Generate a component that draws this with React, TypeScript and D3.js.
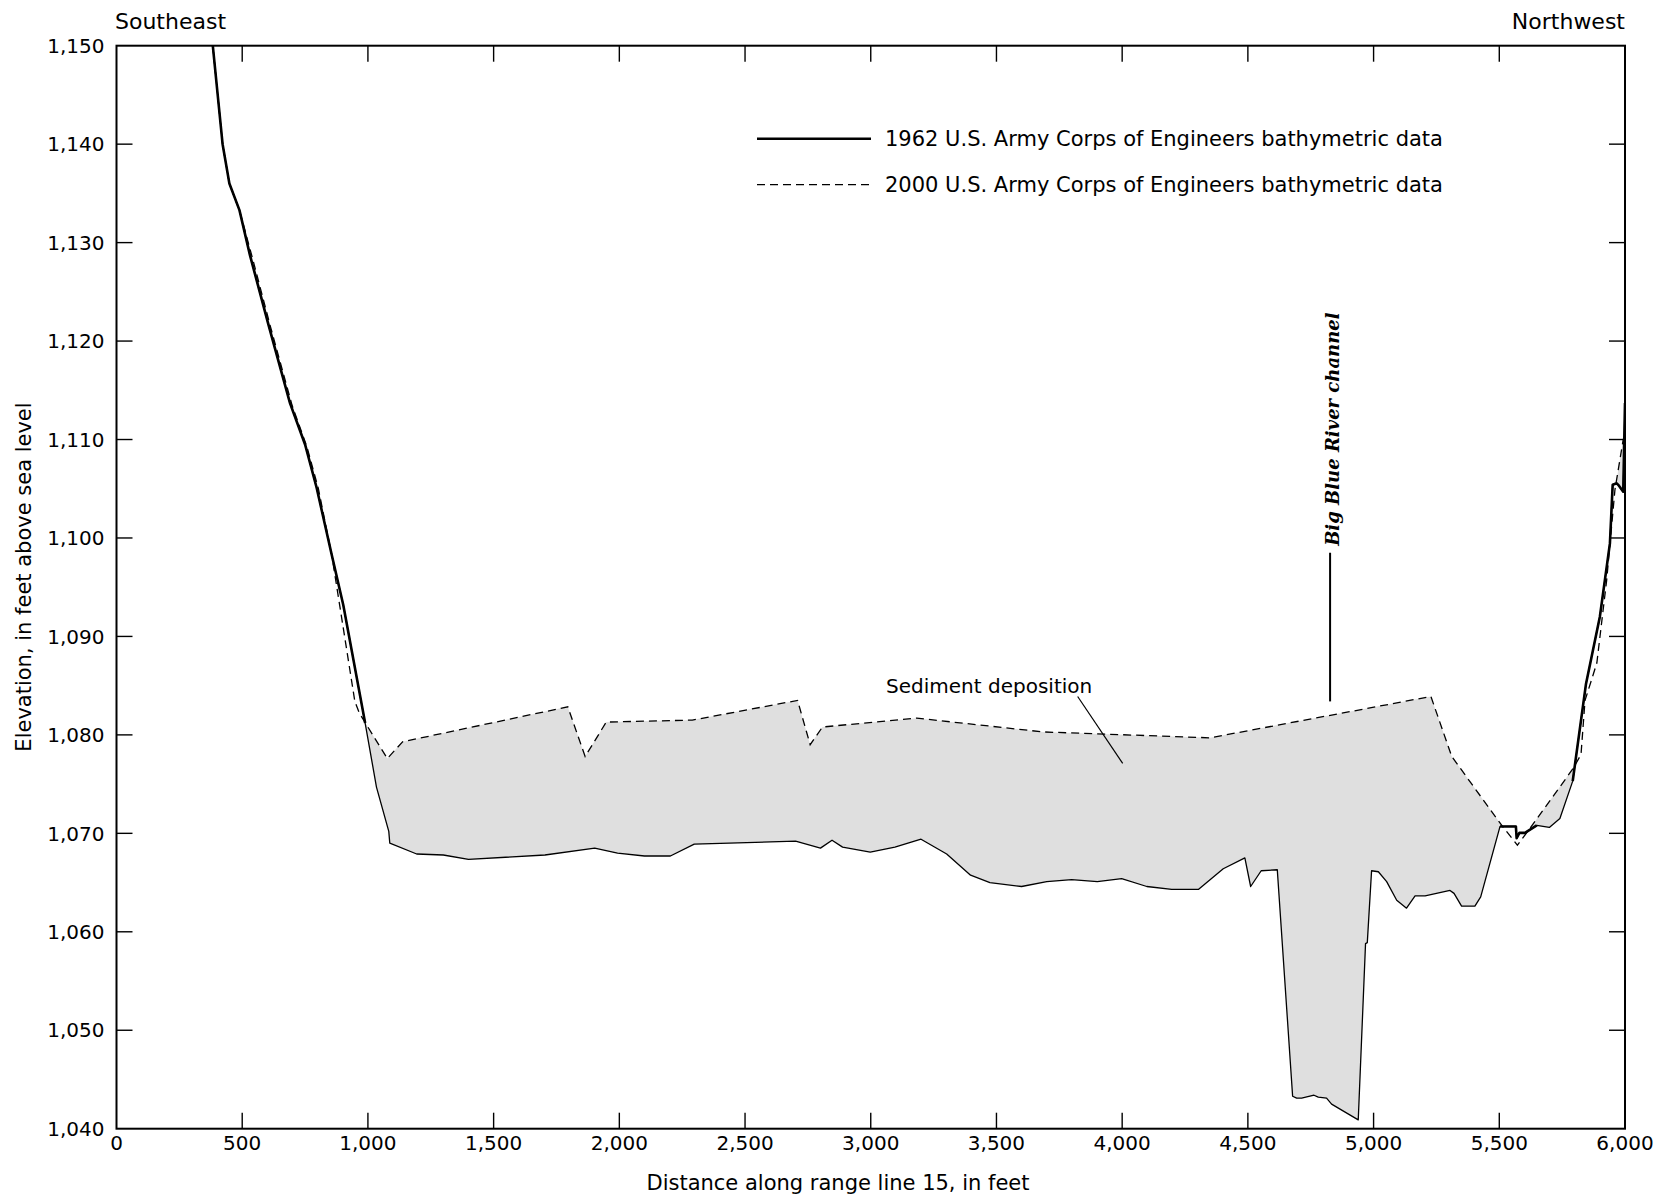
import React from "react";
import * as d3 from "d3";

// ---------- data ----------
const xTickValues = [0, 500, 1000, 1500, 2000, 2500, 3000, 3500, 4000, 4500, 5000, 5500, 6000];
const yTickValues = [1040, 1050, 1060, 1070, 1080, 1090, 1100, 1110, 1120, 1130, 1140, 1150];

// 1962 U.S. Army Corps of Engineers bathymetric data
const dist1962 = [
  383, 422, 449, 489, 531, 604, 690, 750, 796, 856, 902, 989, 1034, 1083, 1087, 1194, 1300, 1400,
  1704, 1902, 1993, 2100, 2203, 2298, 2701, 2800, 2846, 2888, 2998, 3096, 3200, 3302, 3397, 3474,
  3600, 3700, 3799, 3901, 3998, 4098, 4197, 4303, 4402, 4488, 4511, 4553, 4617, 4678, 4694, 4714,
  4763, 4780, 4813, 4833, 4939, 4968, 4975, 4992, 5019, 5052, 5092, 5131, 5165, 5205, 5304, 5320,
  5350, 5403, 5426, 5503, 5566, 5569, 5580, 5602, 5649, 5699, 5741, 5792, 5845, 5900, 5940, 5951,
  5967, 5973, 5993, 6000,
];
const elev1962 = [
  1150, 1140, 1136, 1133.3, 1128.7, 1121.7, 1113.7, 1109.5, 1105.1, 1098.3, 1093.2, 1081.2, 1074.7,
  1070.2, 1069, 1067.9, 1067.8, 1067.35, 1067.8, 1068.5, 1068, 1067.7, 1067.7, 1068.9, 1069.2,
  1068.5, 1069.3, 1068.6, 1068.1, 1068.6, 1069.4, 1067.9, 1065.75, 1065, 1064.6, 1065.1, 1065.3,
  1065.1, 1065.4, 1064.6, 1064.3, 1064.3, 1066.4, 1067.5, 1064.6, 1066.2, 1066.3, 1043.3, 1043.1,
  1043.1, 1043.4, 1043.2, 1043.1, 1042.5, 1040.9, 1058.8, 1058.9, 1066.2, 1066.1, 1065.1, 1063.2,
  1062.4, 1063.65, 1063.65, 1064.2, 1063.9, 1062.6, 1062.6, 1063.55, 1070.7, 1070.7, 1069.5,
  1070.05, 1070.05, 1070.8, 1070.6, 1071.5, 1075.3, 1085.2, 1092, 1099.45, 1105.4, 1105.55, 1105.4,
  1104.7, 1113.7,
];

// 2000 U.S. Army Corps of Engineers bathymetric data
const dist2000 = [
  383, 422, 449, 489, 540, 612, 698, 757, 803, 856, 948, 966, 1077, 1138, 1795, 1864, 1948, 2290,
  2709, 2759, 2808, 3183, 3686, 4349, 5228, 5311, 5510, 5572, 5622, 5794, 5825, 5841, 5888, 5927,
  5960, 5993, 6000,
];
const elev2000 = [
  1150, 1140, 1136, 1133.3, 1128.5, 1121.5, 1113.5, 1109.3, 1105, 1098.3, 1083.4, 1082.2, 1077.6,
  1079.3, 1082.85, 1077.8, 1081.3, 1081.5, 1083.5, 1079, 1080.8, 1081.7, 1080.3, 1079.7, 1083.9,
  1077.8, 1070.8, 1068.8, 1070.5, 1076.6, 1078, 1083.5, 1087.3, 1095.7, 1104.9, 1110, 1110.5,
];

const legendLabels = [
  "1962 U.S. Army Corps of Engineers bathymetric data",
  "2000 U.S. Army Corps of Engineers bathymetric data",
];

// ---------- layout ----------
const W = 1674;
const H = 1199;
const M = { left: 116.5, right: 1625, top: 45.7, bottom: 1128.7 };
const FONT = "'DejaVu Sans', Verdana, sans-serif";

type P = [number, number];

export default function App() {
  const x = d3.scaleLinear().domain([0, 6000]).range([M.left, M.right]);
  const y = d3.scaleLinear().domain([1040, 1150]).range([M.bottom, M.top]);

  const s1962: P[] = dist1962.map((d, i) => [d, elev1962[i]]);
  const s2000: P[] = dist2000.map((d, i) => [d, elev2000[i]]);

  const line = d3
    .line<P>()
    .x((d) => x(d[0]))
    .y((d) => y(d[1]));

  // region above the 1962 bottom (used as clip)
  const aboveOld = d3
    .area<P>()
    .x((d) => x(d[0]))
    .y0(() => y(1150) - 5)
    .y1((d) => y(d[1]));
  // region below the 2000 bottom
  const belowNew = d3
    .area<P>()
    .x((d) => x(d[0]))
    .y0(() => y(1040))
    .y1((d) => y(d[1]));

  const thickLeft = s1962.filter((d) => d[0] <= 989);
  const thickMid = s1962.filter((d) => d[0] >= 5503 && d[0] <= 5649);
  const thickRight = s1962.filter((d) => d[0] >= 5792);

  const fmt = d3.format(",");
  const tickLen = 16;

  return (
    <svg
      width={W}
      height={H}
      viewBox={`0 0 ${W} ${H}`}
      style={{ position: "absolute", left: 0, top: 0, background: "#fff" }}
      fontFamily={FONT}
    >
      <defs>
        <clipPath id="aboveOld">
          <path d={aboveOld(s1962) || ""} />
        </clipPath>
        <clipPath id="plotArea">
          <rect x={M.left} y={M.top} width={M.right - M.left} height={M.bottom - M.top} />
        </clipPath>
      </defs>

      {/* sediment deposition fill */}
      <g clipPath="url(#plotArea)">
        <path d={belowNew(s2000) || ""} fill="#dfdfdf" clipPath="url(#aboveOld)" />
        {/* 1962 line (thin) */}
        <path d={line(s1962) || ""} fill="none" stroke="#000" strokeWidth={1.3} strokeLinejoin="round" />
        {/* thick parts of 1962 line */}
        {[thickLeft, thickMid, thickRight].map((seg, i) => (
          <path key={i} d={line(seg) || ""} fill="none" stroke="#000" strokeWidth={2.6} strokeLinejoin="round" />
        ))}
        {/* 2000 dashed line */}
        <path
          d={line(s2000) || ""}
          fill="none"
          stroke="#000"
          strokeWidth={1.3}
          strokeDasharray="8,5"
        />
      </g>

      {/* frame */}
      <rect
        x={M.left}
        y={M.top}
        width={M.right - M.left}
        height={M.bottom - M.top}
        fill="none"
        stroke="#000"
        strokeWidth={2}
      />

      {/* x ticks */}
      {xTickValues.map((t) => (
        <g key={"x" + t}>
          {t > 0 && t < 6000 && (
            <>
              <line x1={x(t)} x2={x(t)} y1={M.bottom} y2={M.bottom - tickLen} stroke="#000" strokeWidth={1.4} />
              <line x1={x(t)} x2={x(t)} y1={M.top} y2={M.top + tickLen} stroke="#000" strokeWidth={1.4} />
            </>
          )}
          <text x={x(t)} y={M.bottom + 21.5} textAnchor="middle" fontSize={20} fill="#000">
            {fmt(t)}
          </text>
        </g>
      ))}

      {/* y ticks */}
      {yTickValues.map((t) => (
        <g key={"y" + t}>
          {t > 1040 && t < 1150 && (
            <>
              <line x1={M.left} x2={M.left + tickLen} y1={y(t)} y2={y(t)} stroke="#000" strokeWidth={1.4} />
              <line x1={M.right} x2={M.right - tickLen} y1={y(t)} y2={y(t)} stroke="#000" strokeWidth={1.4} />
            </>
          )}
          <text x={M.left - 12} y={y(t)} dy="0.36em" textAnchor="end" fontSize={20} fill="#000">
            {fmt(t)}
          </text>
        </g>
      ))}

      {/* axis titles */}
      <text x={838} y={1190} textAnchor="middle" fontSize={21} fill="#000">
        Distance along range line 15, in feet
      </text>
      <text
        transform={`translate(31, ${577}) rotate(-90)`}
        textAnchor="middle"
        fontSize={21}
        fill="#000"
      >
        Elevation, in feet above sea level
      </text>

      {/* direction labels */}
      <text x={115} y={28.5} fontSize={22} fill="#000">
        Southeast
      </text>
      <text x={1625} y={28.5} textAnchor="end" fontSize={22} fill="#000">
        Northwest
      </text>

      {/* legend */}
      <line x1={757} x2={871} y1={138.8} y2={138.8} stroke="#000" strokeWidth={2.6} />
      <text x={885} y={138.8} dy="0.36em" fontSize={21} fill="#000">
        {legendLabels[0]}
      </text>
      <line x1={757} x2={871} y1={184.7} y2={184.7} stroke="#000" strokeWidth={1.3} strokeDasharray="8,5" />
      <text x={885} y={184.7} dy="0.36em" fontSize={21} fill="#000">
        {legendLabels[1]}
      </text>

      {/* annotations */}
      <text x={x(3061)} y={y(1084.3)} fontSize={20} fill="#000">
        Sediment deposition
      </text>
      <line x1={x(3823)} y1={y(1083.9)} x2={x(4002)} y2={y(1077.1)} stroke="#000" strokeWidth={1.2} />

      <text
        transform={`translate(${x(4863)}, ${y(1099.2)}) rotate(-90)`}
        fontFamily="'DejaVu Serif', serif"
        fontWeight="bold"
        fontStyle="italic"
        fontSize={18}
        fill="#000"
      >
        Big Blue River channel
      </text>
      <line x1={x(4827)} x2={x(4827)} y1={y(1098.5)} y2={y(1083.4)} stroke="#000" strokeWidth={2} />
    </svg>
  );
}
